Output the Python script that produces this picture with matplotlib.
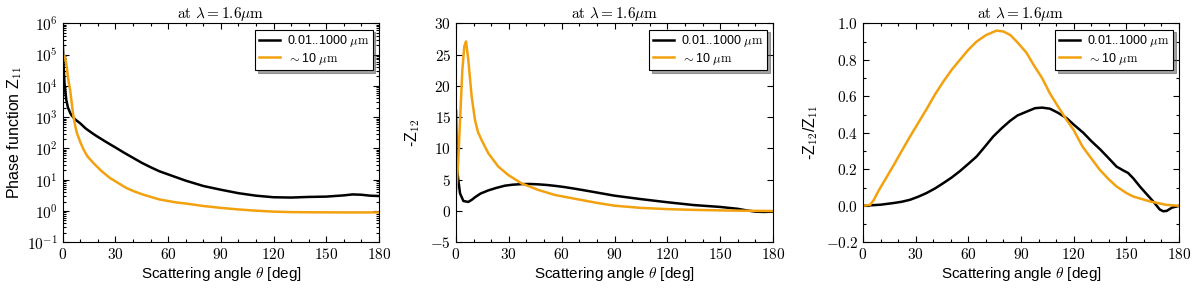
import numpy as np
import matplotlib
matplotlib.use("Agg")
import matplotlib.pyplot as plt
from matplotlib.ticker import MultipleLocator, FuncFormatter, LogLocator, NullFormatter

plt.rcParams['font.family'] = ['Liberation Sans', 'DejaVu Sans']
plt.rcParams['mathtext.fontset'] = 'cm'

# ---------------------------------------------------------------------------
# Values (theta in deg)
# ---------------------------------------------------------------------------
LABEL_BROAD = '0.01..1000 $\\mu\\mathrm{m}$'
LABEL_10UM = '$\\sim$10 $\\mu\\mathrm{m}$'
TITLE = '$\\mathrm{at}\\ \\lambda = 1.6\\mu\\mathrm{m}$'

# Panel 1: phase function Z11 (stored as log10 values)
z11_th_black = [0, 0.5, 1, 2, 3, 4.2, 5, 7, 10, 13, 17.5, 20, 24, 30, 35, 40, 45,
                50, 55, 60, 66, 70, 80, 90, 100, 110, 120, 130, 140, 150, 160,
                165, 170, 175, 180]
z11_log_black = [5.4, 4.6, 4.08, 3.55, 3.3, 3.14, 3.06, 2.93, 2.80, 2.64, 2.46,
                 2.37, 2.23, 2.03, 1.86, 1.70, 1.54, 1.40, 1.27, 1.17, 1.05, 0.97,
                 0.8, 0.68, 0.57, 0.49, 0.44, 0.43, 0.45, 0.46, 0.50, 0.53, 0.52,
                 0.49, 0.48]
z11_th_orange = [1, 1.5, 2.3, 3, 4.2, 5, 6, 7, 8, 10, 11.8, 14, 17.5, 22, 27, 32,
                 36.4, 41, 46, 55, 65, 70, 80, 90, 100, 110, 120, 130, 140, 160, 180]
z11_log_orange = [4.95, 4.85, 4.6, 4.25, 3.87, 3.5, 3.05, 2.75, 2.5, 2.2, 1.97,
                  1.75, 1.53, 1.28, 1.05, 0.88, 0.73, 0.62, 0.52, 0.37, 0.27, 0.24,
                  0.16, 0.10, 0.05, 0.01, -0.02, -0.035, -0.04, -0.045, -0.045]

# Panel 2: -Z12
z12_th_black = [0, 0.3, 0.7, 1.3, 2.3, 4.2, 7, 9, 10.8, 14, 18.4, 23, 27.8, 32,
                37.3, 42, 46.8, 52, 56.2, 61, 66.7, 75, 90, 105, 120, 135, 150,
                160, 165, 170, 175, 180]
z12_black = [16, 9, 6.5, 5, 2.8, 1.6, 1.45, 1.8, 2.2, 2.8, 3.3, 3.7, 4.05, 4.2,
             4.3, 4.32, 4.26, 4.15, 4.02, 3.85, 3.6, 3.2, 2.45, 1.9, 1.4, 0.95,
             0.65, 0.35, 0.1, -0.1, -0.15, -0.1]
z12_th_orange = [0, 0.5, 1.3, 2.3, 3.6, 4.7, 5.7, 7, 8, 8.9, 10.8, 12.5, 14.6,
                 18.4, 24, 29.7, 37.3, 46.8, 56.2, 66.7, 80, 90, 105, 120, 135,
                 150, 165, 180]
z12_orange = [3.0, 4.5, 8.2, 14.5, 22.5, 26.3, 27.1, 24.1, 21, 18.3, 14.5, 12.6,
              11.3, 9.2, 7.1, 5.75, 4.4, 3.36, 2.56, 2.0, 1.3, 0.85, 0.5, 0.3,
              0.18, 0.1, 0.04, 0.0]

# Panel 3: -Z12/Z11
pol_th_black = [0, 10, 17.3, 22, 26.8, 31.5, 36.2, 41, 45.7, 50.5, 55.2, 60,
                64.7, 69.5, 74.2, 79, 83.7, 88, 93.2, 98, 102, 106.5, 111, 116,
                120, 125.5, 130, 135, 140, 144.4, 148, 151, 154, 157.7, 161,
                165.3, 169, 171, 173, 176, 178.6, 180]
pol_black = [0, 0.006, 0.015, 0.022, 0.033, 0.05, 0.07, 0.095, 0.124, 0.155,
             0.19, 0.23, 0.27, 0.325, 0.38, 0.425, 0.465, 0.495, 0.516, 0.535,
             0.538, 0.532, 0.51, 0.48, 0.445, 0.40, 0.355, 0.31, 0.26, 0.215,
             0.195, 0.18, 0.15, 0.106, 0.07, 0.024, -0.02, -0.03, -0.028, -0.01,
             -0.004, 0]
pol_th_orange = [0, 4, 6, 8.7, 13, 17.3, 22, 26.8, 31.5, 36.2, 41, 45.7, 50.5,
                 55.2, 60, 64.7, 70, 76, 80, 84, 88, 93, 97, 102, 106.5, 111,
                 116, 120, 125, 130, 134.9, 140, 144.4, 150, 153.9, 163.4,
                 172.9, 180]
pol_orange = [0, 0.005, 0.03, 0.08, 0.15, 0.22, 0.30, 0.38, 0.455, 0.53, 0.61,
              0.68, 0.745, 0.80, 0.855, 0.90, 0.935, 0.96, 0.955, 0.935, 0.895,
              0.84, 0.775, 0.70, 0.615, 0.545, 0.47, 0.415, 0.325, 0.26, 0.197,
              0.145, 0.106, 0.07, 0.051, 0.024, 0.005, 0]

BLACK = 'black'
ORANGE = '#f2a10f'
LW = 1.8


def bold_int(v, p):
    return '$\\mathbf{%d}$' % round(v)


def style_axis(ax):
    ax.set_xlim(0, 180)
    ax.xaxis.set_major_locator(MultipleLocator(30))
    ax.xaxis.set_minor_locator(MultipleLocator(10))
    ax.xaxis.set_major_formatter(FuncFormatter(bold_int))
    ax.tick_params(which='both', direction='in', top=True, right=True,
                   labelsize=11, width=0.8)
    ax.tick_params(which='major', length=4)
    ax.tick_params(which='minor', length=2)
    ax.set_xlabel('Scattering angle $\\theta$ [deg]', fontsize=11, labelpad=2)
    ax.set_title(TITLE, fontsize=11, pad=3)
    for s in ax.spines.values():
        s.set_linewidth(0.8)
    leg = ax.legend(loc='upper right', fontsize=9, frameon=True, fancybox=False,
                    shadow=True, borderaxespad=0.5, handlelength=1.7,
                    handletextpad=0.5, labelspacing=0.1, borderpad=0.3)
    leg.get_frame().set_edgecolor('black')
    leg.get_frame().set_linewidth(0.8)


fig = plt.figure(figsize=(12, 2.88), dpi=100)
ax1 = fig.add_axes([0.0523, 0.1587, 0.2635, 0.7604])
ax2 = fig.add_axes([0.3800, 0.1587, 0.2642, 0.7604])
ax3 = fig.add_axes([0.7192, 0.1587, 0.2633, 0.7604])

# Panel 1
ax1.plot(z11_th_black, 10 ** np.array(z11_log_black), color=BLACK, lw=LW, label=LABEL_BROAD)
ax1.plot(z11_th_orange, 10 ** np.array(z11_log_orange), color=ORANGE, lw=LW, label=LABEL_10UM)
ax1.set_yscale('log')
ax1.set_ylim(1e-1, 1e6)
ax1.yaxis.set_major_locator(LogLocator(base=10, numticks=10))
ax1.yaxis.set_minor_locator(LogLocator(base=10, subs=np.arange(2, 10), numticks=20))
ax1.yaxis.set_minor_formatter(NullFormatter())
ax1.yaxis.set_major_formatter(FuncFormatter(
    lambda v, p: '$\\mathbf{10^{%d}}$' % round(np.log10(v))))
ax1.set_ylabel('Phase function Z$_{11}$', fontsize=11.5, labelpad=2)
style_axis(ax1)

# Panel 2
ax2.plot(z12_th_black, z12_black, color=BLACK, lw=LW, label=LABEL_BROAD)
ax2.plot(z12_th_orange, z12_orange, color=ORANGE, lw=LW, label=LABEL_10UM)
ax2.set_ylim(-5, 30)
ax2.yaxis.set_major_locator(MultipleLocator(5))
ax2.yaxis.set_major_formatter(FuncFormatter(bold_int))
ax2.set_ylabel('-Z$_{12}$', fontsize=11.5, labelpad=6)
style_axis(ax2)

# Panel 3
ax3.plot(pol_th_black, pol_black, color=BLACK, lw=LW, label=LABEL_BROAD)
ax3.plot(pol_th_orange, pol_orange, color=ORANGE, lw=LW, label=LABEL_10UM)
ax3.set_ylim(-0.2, 1.0)
ax3.yaxis.set_major_locator(MultipleLocator(0.2))
ax3.yaxis.set_minor_locator(MultipleLocator(0.1))
ax3.yaxis.set_major_formatter(FuncFormatter(lambda v, p: '$\\mathbf{%.1f}$' % v))
ax3.set_ylabel('-Z$_{12}$/Z$_{11}$', fontsize=11.5, labelpad=4)
style_axis(ax3)

fig.savefig('out.png', dpi=100)
